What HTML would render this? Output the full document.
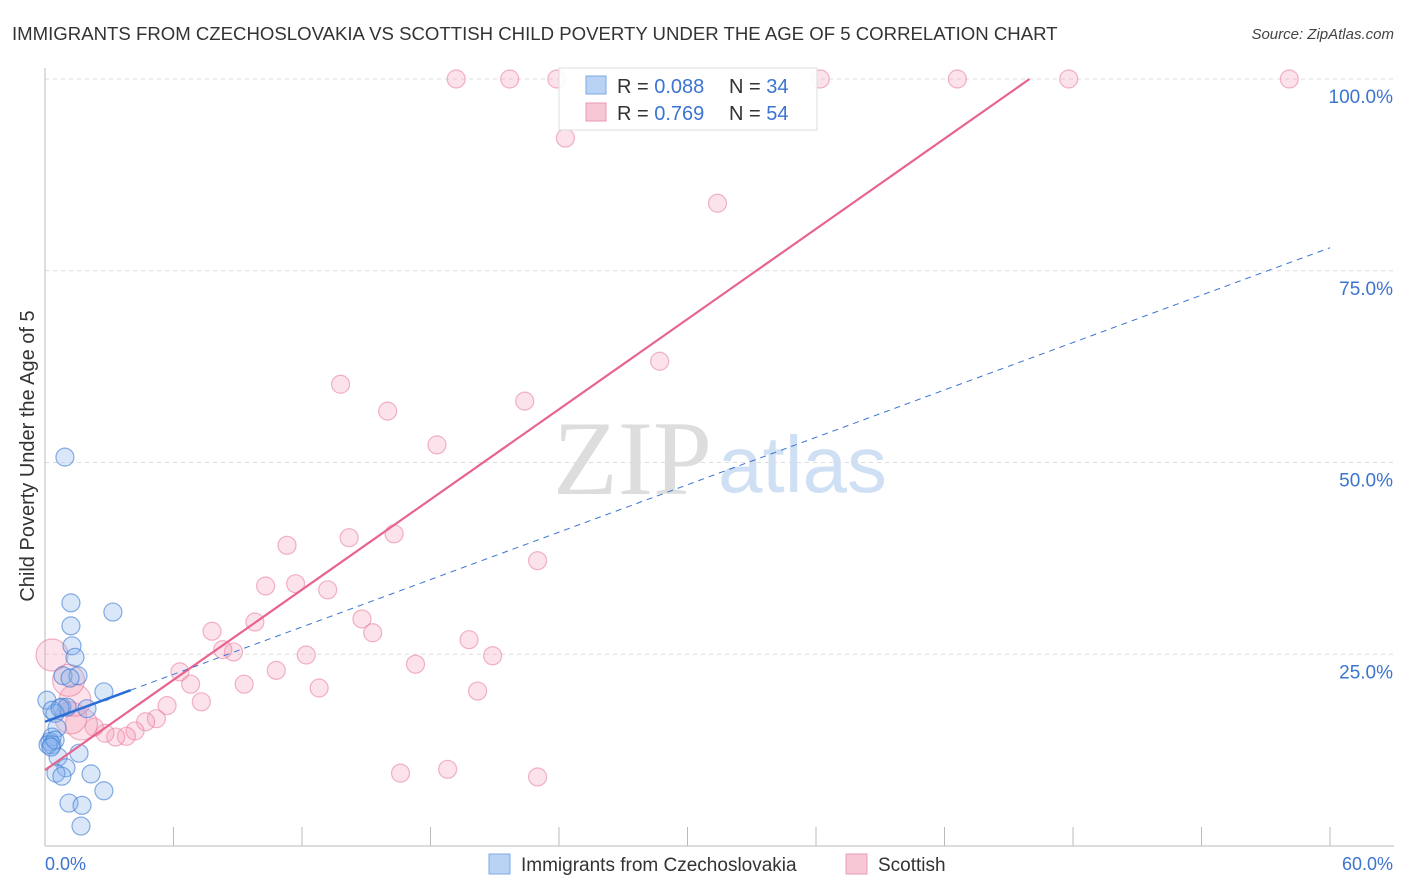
<!DOCTYPE html>
<html><head><meta charset="utf-8"><style>
body{margin:0;background:#fff;font-family:"Liberation Sans",sans-serif;}
#c{position:absolute;left:0;top:0;}
</style></head><body>
<svg id="c" width="1406" height="892" xmlns="http://www.w3.org/2000/svg"></svg>
<script>
const blueX=[1.21,1.21,1.26,1.4,0.84,1.54,2.75,3.17,0.93,0.79,1.03,1.96,0.47,0.56,0.33,0.23,0.33,0.61,1.59,0.98,0.51,0.79,2.15,2.75,1.12,1.73,1.68,0.09,0.33,0.7,1.17,0.14,0.47,0.28];
const blueY=[31.7,28.7,26.1,24.6,22.2,22.2,20.1,30.5,50.7,18.1,18.1,17.9,17.3,15.4,14.2,13.6,13.2,11.6,12.1,10.2,9.5,9.1,9.4,7.2,5.6,5.3,2.6,19.0,17.7,18.0,21.9,13.2,13.8,12.9];
const pinkX=[19.2,21.7,23.9,36.2,42.6,47.8,58.1,24.3,31.4,28.7,13.8,16.0,22.4,18.3,11.3,14.2,16.3,23.0,10.3,11.7,13.2,14.8,15.3,7.8,9.8,19.8,8.8,12.2,8.3,20.9,6.3,6.8,17.3,10.8,9.3,12.8,7.3,20.2,5.7,5.2,4.7,4.2,3.8,3.3,2.8,2.3,1.7,1.2,1.4,1.1,0.33,16.6,18.8,23.0];
const pinkY=[100,100,100,100,100,100,100,92.3,83.8,63.2,60.2,56.7,58.0,52.3,39.2,40.2,40.7,37.2,33.9,34.2,33.4,29.6,27.8,28.0,29.2,26.9,25.3,24.9,25.6,24.8,22.7,21.1,23.7,22.9,21.1,20.6,18.8,20.2,18.3,16.6,16.2,15.0,14.3,14.2,14.7,15.5,15.9,16.7,19.0,21.6,24.9,9.5,10.0,9.0];
const pinkBig=[0,0,0,0,0,0,0,0,0,0,0,0,0,0,0,0,0,0,0,0,0,0,0,0,0,0,0,0,0,0,0,0,0,0,0,0,0,0,0,0,0,0,0,0,0,0,1,1,1,1,1,0,0,0];
const xTicks=[0,6,12,18,24,30,36,42,48,54,60];
const yTicks=[25,50,75,100];
const yTickLabels=["25.0%","50.0%","75.0%","100.0%"];
const blueTrend=[16.2,1.03]; // intercept, slope
const pinkTrend=[9.9,1.96];

const svg=document.getElementById('c');
const NS='http://www.w3.org/2000/svg';
const X0=45,X1=1330,Y0=846,Y1=79;
const sx=v=>X0+(X1-X0)*v/60;
const sy=v=>Y0-(Y0-Y1)*v/100;
function el(t,a,p){const e=document.createElementNS(NS,t);for(const k in a)e.setAttribute(k,a[k]);(p||svg).appendChild(e);return e;}

let t=el('text',{x:12,y:40,'font-size':18.6,fill:'#333'});t.textContent='IMMIGRANTS FROM CZECHOSLOVAKIA VS SCOTTISH CHILD POVERTY UNDER THE AGE OF 5 CORRELATION CHART';

t=el('text',{x:1394,y:39,'font-size':15,fill:'#444','font-style':'italic','text-anchor':'end'});t.textContent='Source: ZipAtlas.com';


// watermark
t=el('text',{x:553,y:494,'font-size':106,fill:'#ddd','font-family':'Liberation Serif,serif'});t.textContent='ZIP';

t=el('text',{x:718,y:492,'font-size':80,fill:'#cfe0f5'});t.textContent='atlas';


// grid
yTicks.forEach((v,i)=>{
  let g=el('line',{x1:X0,x2:1394,y1:sy(v),y2:sy(v),stroke:'#ddd','stroke-dasharray':'4,4'});
  
  let l=el('text',{x:1393,y:sy(v)+24,'font-size':19,fill:'#3b74d1','text-anchor':'end'});l.textContent=yTickLabels[i];
  
});
let a=el('line',{x1:X0,x2:X0,y1:68,y2:Y0,stroke:'#bbb'});
a=el('line',{x1:X0,x2:1394,y1:Y0,y2:Y0,stroke:'#bbb'});
xTicks.forEach(v=>{let k=el('line',{x1:sx(v),x2:sx(v),y1:Y0-19,y2:Y0,stroke:'#bbb'});});
t=el('text',{x:45,y:870,'font-size':18,fill:'#3b74d1'});t.textContent='0.0%';
t=el('text',{x:1393,y:870,'font-size':18,fill:'#3b74d1','text-anchor':'end'});t.textContent='60.0%';
t=el('text',{x:0,y:0,'font-size':20,fill:'#333','text-anchor':'middle',transform:'translate(34,456) rotate(-90)'});t.textContent='Child Poverty Under the Age of 5';


// points
pinkX.forEach((x,i)=>{let c=el('circle',{cx:sx(x),cy:sy(pinkY[i]),r:pinkBig[i]?16:9,fill:'rgba(244,160,185,0.3)',stroke:'rgba(232,120,155,0.55)','stroke-width':1.2});
});
blueX.forEach((x,i)=>{let c=el('circle',{cx:sx(x),cy:sy(blueY[i]),r:9,fill:'rgba(130,175,235,0.3)',stroke:'rgba(60,120,210,0.6)','stroke-width':1.2});
});

// trends
let pxEnd=(100-pinkTrend[0])/pinkTrend[1];
let ln=el('line',{x1:sx(0),y1:sy(pinkTrend[0]),x2:sx(pxEnd),y2:sy(100),stroke:'#e8648f','stroke-width':2.2});

ln=el('line',{x1:sx(4),y1:sy(blueTrend[0]+4*blueTrend[1]),x2:sx(60),y2:sy(blueTrend[0]+60*blueTrend[1]),stroke:'#3b74d1','stroke-width':1,'stroke-dasharray':'6,5'});

ln=el('line',{x1:sx(0),y1:sy(blueTrend[0]),x2:sx(4),y2:sy(blueTrend[0]+4*blueTrend[1]),stroke:'#2a6fd6','stroke-width':2.5});


// legend box
let g=el('g',{});
el('rect',{x:559,y:68,width:258,height:62,fill:'rgba(255,255,255,0.9)',stroke:'#ddd'},g);
el('rect',{x:586,y:76,width:20,height:18,fill:'#b9d3f5',stroke:'#7fa9e3'},g);
el('rect',{x:586,y:103,width:20,height:18,fill:'#f8c7d5',stroke:'#eb9ab4'},g);
[[93,'R = ','0.088','34'],[120,'R = ',' 0.769','54']].forEach(r=>{
  let tx=el('text',{x:617,y:r[0],'font-size':20,fill:'#333'},g);
  tx.innerHTML=r[1]+'<tspan fill="#3b74d1">'+r[2]+'</tspan><tspan x="729">N = </tspan><tspan fill="#3b74d1">'+r[3]+'</tspan>';
});

// bottom legend
let bl=el('g',{});
el('rect',{x:489,y:854,width:21,height:20,fill:'#b9d3f5',stroke:'#7fa9e3'},bl);
t=el('text',{x:521,y:871,'font-size':19,fill:'#333'},bl);t.textContent='Immigrants from Czechoslovakia';
el('rect',{x:846,y:854,width:21,height:20,fill:'#f8c7d5',stroke:'#eb9ab4'},bl);
t=el('text',{x:878,y:871,'font-size':19,fill:'#333'},bl);t.textContent='Scottish';
</script>
</body></html>
